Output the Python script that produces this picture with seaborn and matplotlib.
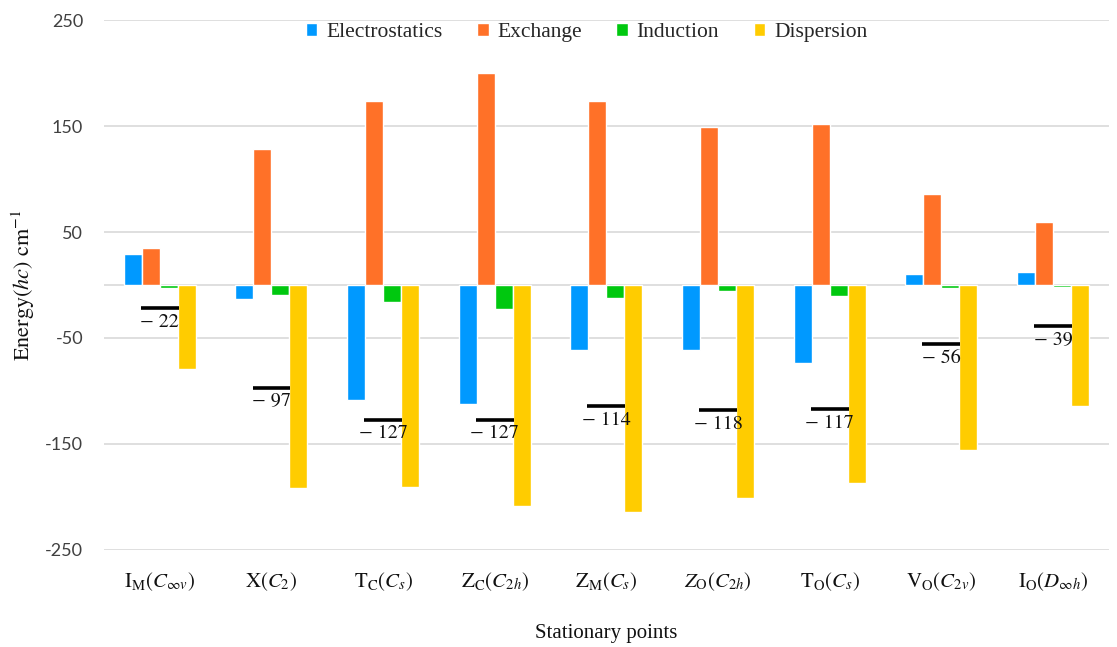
import pandas as pd
import matplotlib
matplotlib.use("Agg")
import matplotlib.pyplot as plt
import seaborn as sns

# Stationary points and their energy components (hc cm^-1)
points = [r"$\mathrm{I_M}(C_{\infty v})$", r"$\mathrm{X}(C_2)$", r"$\mathrm{T_C}(C_s)$",
          r"$\mathrm{Z_C}(C_{2h})$", r"$\mathrm{Z_M}(C_s)$", r"$Z_\mathrm{O}(C_{2h})$",
          r"$\mathrm{T_O}(C_s)$", r"$\mathrm{V_O}(C_{2v})$", r"$\mathrm{I_O}(D_{\infty h})$"]
terms = ["Electrostatics", "Exchange", "Induction", "Dispersion"]

electrostatics = [29, -13.5, -108.5, -112, -61, -61, -74, 10, 12.5]
exchange = [35, 128, 174, 200, 174, 149, 152, 86, 59]
induction = [-2.5, -9.5, -16, -23, -12, -6, -10, -3, -2]
dispersion = [-79, -192, -191, -209, -214, -201, -187, -156, -114]
totals = [-22, -97, -127, -127, -114, -118, -117, -56, -39]

colors = ["#0099FF", "#FF7128", "#00C80F", "#FFCC00"]

df = pd.DataFrame({
    "point": [p for p in points for _ in terms],
    "term": [t for _ in points for t in terms],
    "energy": [v for vals in zip(electrostatics, exchange, induction, dispersion) for v in vals],
})

sns.set_theme(style="white")
plt.rcParams["mathtext.fontset"] = "stix"

fig = plt.figure(figsize=(11.17, 6.47), dpi=100)
ax = fig.add_axes([0.0931, 0.150, 0.8997, 0.819])

sns.barplot(data=df, x="point", y="energy", hue="term", order=points, hue_order=terms,
            palette=colors, width=0.645, saturation=1, ax=ax, legend=True)

# light grid at the odd hundreds, plus the zero line
yticks = [250, 150, 50, -50, -150, -250]
ax.set_yticks(yticks)
ax.set_yticklabels([str(v) for v in yticks])
ax.set_ylim(-250, 250)
ax.set_xlim(-0.5, len(points) - 0.5)
for v in yticks:
    ax.axhline(v, color="#d9d9d9", lw=1.2, zorder=0)
ax.axhline(0, color="#d9d9d9", lw=1.2, zorder=0)
for s in ax.spines.values():
    s.set_visible(False)

ax.tick_params(axis="y", length=0, pad=15, labelsize=13, labelcolor="#404040")
ax.tick_params(axis="x", length=0, pad=15, labelsize=15, labelcolor="#111111")
for lab in ax.get_yticklabels():
    lab.set_fontfamily("Lato")

# total interaction energy: short black bar with its value underneath
half = 0.17
for i, t in enumerate(totals):
    ax.hlines(t, i - half, i + half, color="black", lw=2.6, zorder=5)
    ax.annotate(f"\u2212 {abs(t)}", xy=(i, t), xytext=(0, -4), textcoords="offset points",
                ha="center", va="top", fontsize=14.5, fontfamily="STIXGeneral", color="#111111")

ax.set_xlabel("Stationary points", fontsize=15, fontfamily="Liberation Serif",
              labelpad=22, color="#111111")
ax.set_ylabel(r"$\mathrm{Energy}(hc)\ \mathrm{cm}^{-1}$", fontsize=16, color="#111111")
ax.yaxis.set_label_coords(-0.067, 0.5)

handles, _ = ax.get_legend_handles_labels()
ax.legend(handles, terms, loc="center", bbox_to_anchor=(0.525, 0.95),
          bbox_transform=fig.transFigure, ncol=4, frameon=False,
          handlelength=0.55, handleheight=0.55, handletextpad=0.4, columnspacing=1.6,
          prop={"family": "Liberation Serif", "size": 15.5})

fig.savefig("out.png", dpi=100, facecolor="white")
